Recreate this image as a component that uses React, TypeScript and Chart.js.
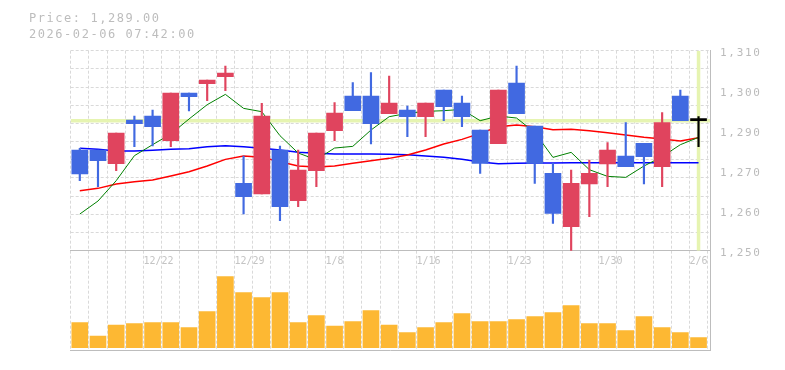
import React, { useEffect, useRef } from 'react';
import { Chart, registerables } from 'chart.js';

Chart.register(...registerables);

// ---- data ----
const dates = ['12/16','12/17','12/18','12/19','12/22','12/23','12/24','12/25','12/26','12/29','12/30','1/5','1/6','1/7','1/8','1/9','1/13','1/14','1/15','1/16','1/19','1/20','1/21','1/22','1/23','1/26','1/27','1/28','1/29','1/30','2/2','2/3','2/4','2/5','2/6'];
const xTickLabels = ['12/22','12/29','1/8','1/16','1/23','1/30','2/6'];

const open  = [1280.2,1280.2,1276.1,1289.2,1290.4,1283.0,1297.3,1300.1,1302.2,1270.2,1267.0,1280.2,1265.0,1274.0,1286.0,1296.4,1296.4,1291.1,1292.2,1290.2,1298.2,1294.3,1286.2,1282.1,1300.3,1287.4,1273.2,1257.2,1270.0,1276.0,1278.4,1282.2,1275.2,1296.4,1289.0];
const high  = [1280.7,1280.2,1285.3,1290.4,1292.2,1297.3,1297.3,1301.2,1305.4,1278.4,1294.2,1281.4,1280.2,1285.3,1294.4,1300.4,1303.4,1302.4,1293.4,1294.3,1298.2,1296.4,1286.2,1298.2,1305.4,1287.4,1276.2,1274.2,1277.2,1282.4,1288.4,1282.2,1291.4,1298.2,1290.2];
const low   = [1271.0,1269.2,1274.0,1281.2,1281.4,1281.2,1291.9,1295.0,1298.0,1261.0,1267.0,1259.0,1263.2,1269.2,1283.0,1292.0,1282.0,1291.1,1284.2,1284.2,1289.0,1287.2,1273.2,1282.1,1291.1,1270.2,1258.2,1250.0,1260.2,1269.2,1275.2,1270.0,1269.2,1289.0,1281.2];
const close = [1273.0,1277.0,1285.3,1288.1,1287.2,1297.3,1296.2,1301.2,1303.3,1266.2,1290.4,1263.2,1274.2,1285.3,1291.3,1292.0,1288.1,1294.3,1290.2,1294.3,1293.2,1290.2,1276.2,1298.2,1291.1,1276.2,1261.2,1270.2,1273.2,1280.2,1275.2,1278.2,1288.4,1289.0,1289.0];
const volume = [25000,11700,22700,24000,25000,25000,20000,36000,71000,55000,50000,55000,25000,32000,21700,26000,37000,22700,15000,20000,25000,34000,26000,26000,28000,31000,35000,42000,24000,24000,17000,31000,20000,15000,10000];

const ma5  = [1261.0,1264.9,1271.0,1278.5,1281.8,1285.0,1289.5,1293.8,1296.9,1292.7,1291.7,1284.5,1279.3,1277.3,1280.8,1281.3,1286.2,1290.2,1291.2,1291.8,1292.0,1292.4,1289.0,1290.4,1289.8,1285.5,1278.0,1279.5,1274.3,1272.3,1272.0,1275.4,1278.2,1281.8,1284.0];
const ma25 = [1268.0,1268.7,1270.0,1270.7,1271.2,1272.4,1273.7,1275.4,1277.4,1278.4,1278.0,1276.7,1275.4,1275.1,1275.4,1276.2,1277.0,1277.7,1278.7,1280.2,1282.0,1283.4,1285.2,1287.2,1287.7,1287.2,1286.3,1286.4,1286.0,1285.4,1284.7,1284.0,1283.5,1282.9,1283.9];
const ma75 = [1280.7,1280.4,1279.9,1279.9,1280.1,1280.4,1280.6,1281.2,1281.5,1281.2,1280.7,1280.2,1279.5,1279.2,1279.0,1279.0,1279.0,1278.9,1278.8,1278.4,1278.0,1277.4,1276.6,1276.1,1276.2,1276.3,1276.3,1276.4,1276.4,1276.4,1276.4,1276.4,1276.4,1276.4,1276.4];

const lastPrice = 1289;
const priceMin = 1250;
const priceMax = 1310;
const priceTickValues = [1250, 1262, 1274, 1286, 1298, 1310];
const priceTickLabels = ['1,250', '1,260', '1,270', '1,290', '1,300', '1,310'];
const priceGridDivisions = 11;

const priceText = 'Price: 1,289.00';
const timeText = '2026-02-06 07:42:00';

// ---- styles ----
const RED = '#e0445e';
const BLUE = '#4169e1';
const BLACK = '#000000';
const VOL = '#fdb833';
const CROSS = '#e6f4b1';
const GRID = '#d9d9d9';
const FRAME = '#bdbdbd';
const MONO = '"DejaVu Sans Mono", monospace';

export default function App() {
  const ref = useRef<HTMLCanvasElement>(null);

  useEffect(() => {
    const canvas = ref.current;
    if (!canvas) return;
    const n = dates.length;
    const xMin = -0.5;
    const xMax = 34.63;
    const colors = dates.map((_, i) => (close[i] > open[i] ? RED : close[i] < open[i] ? BLUE : BLACK));
    const gridVals = Array.from({ length: priceGridDivisions + 1 }, (_, k) => priceMin + (k * (priceMax - priceMin)) / priceGridDivisions);
    const isGrid = (v: number) => gridVals.some((g) => Math.abs(g - v) < 1e-6);
    const yTicks = [...gridVals, ...priceTickValues.filter((v) => !isGrid(v))].sort((a, b) => a - b);
    const xBounds = Array.from({ length: n + 1 }, (_, k) => k - 0.5);

    const chart = new Chart(canvas, {
      type: 'bar',
      data: {
        datasets: [
          {
            type: 'bar', label: 'body',
            data: dates.map((_, i) => ({ x: i, y: [open[i], close[i]] })) as any,
            backgroundColor: colors, barThickness: 16, grouped: false, minBarLength: 2,
            borderWidth: 0, order: 1, xAxisID: 'x', yAxisID: 'y',
          } as any,
          {
            type: 'bar', label: 'wick',
            data: dates.map((_, i) => ({ x: i, y: [low[i], high[i]] })) as any,
            backgroundColor: colors, barThickness: 1.5, grouped: false,
            borderWidth: 0, order: 2, xAxisID: 'x', yAxisID: 'y',
          } as any,
          {
            type: 'line', label: 'MA5', data: ma5.map((v, i) => ({ x: i, y: v })),
            borderColor: '#008000', borderWidth: 1, pointRadius: 0, tension: 0, order: 3, xAxisID: 'x', yAxisID: 'y',
          } as any,
          {
            type: 'line', label: 'MA25', data: ma25.map((v, i) => ({ x: i, y: v })),
            borderColor: '#ff0000', borderWidth: 1.5, pointRadius: 0, tension: 0, order: 4, xAxisID: 'x', yAxisID: 'y',
          } as any,
          {
            type: 'line', label: 'MA75', data: ma75.map((v, i) => ({ x: i, y: v })),
            borderColor: '#0000ff', borderWidth: 1.5, pointRadius: 0, tension: 0, order: 5, xAxisID: 'x', yAxisID: 'y',
          } as any,
          {
            type: 'line', label: 'crossH', data: [{ x: xMin, y: lastPrice }, { x: xMax, y: lastPrice }],
            borderColor: CROSS, borderWidth: 3.5, pointRadius: 0, order: 6, xAxisID: 'x', yAxisID: 'y',
          } as any,
          {
            type: 'line', label: 'crossV', data: [{ x: n - 1, y: priceMin }, { x: n - 1, y: priceMax }],
            borderColor: CROSS, borderWidth: 3.5, pointRadius: 0, order: 7, xAxisID: 'x', yAxisID: 'y',
          } as any,
          {
            type: 'bar', label: 'volume',
            data: volume.map((v, i) => ({ x: i, y: v })) as any,
            backgroundColor: VOL, barThickness: 16, grouped: false, borderWidth: 0,
            order: 8, xAxisID: 'x', yAxisID: 'v',
          } as any,
        ],
      },
      options: {
        responsive: false,
        animation: false,
        events: [],
        layout: { padding: { left: 70.7, top: 50.7, right: 0, bottom: 20 } },
        plugins: { legend: { display: false }, tooltip: { enabled: false }, title: { display: false } },
        scales: {
          x: {
            type: 'linear', axis: 'x', position: { y: priceMin } as any,
            min: xMin, max: xMax, offset: false,
            afterBuildTicks: (s: any) => { s.ticks = xBounds.map((v) => ({ value: v })); },
            ticks: {
              autoSkip: false, maxRotation: 0, minRotation: 0, align: 'start', padding: 5,
              color: '#c4c4c4', font: { family: MONO, size: 10 },
              callback: (v: any) => {
                const d = dates[Math.round(Number(v) + 0.5)];
                return d && xTickLabels.includes(d) ? d : '';
              },
            },
            grid: { display: true, color: GRID, lineWidth: 1, drawTicks: false, offset: false },
            border: { display: true, color: FRAME, width: 1, dash: [3, 2] },
          } as any,
          y: {
            type: 'linear', position: 'right', stack: 'main', stackWeight: 200,
            min: priceMin, max: priceMax,
            afterBuildTicks: (s: any) => {
              s.ticks = yTicks.map((v) => ({ value: v }));
              if (!s._lsPatched) {
                const orig = s.drawLabels.bind(s);
                s.drawLabels = (area: any) => {
                  const ctx: any = s.ctx;
                  const prev = ctx.letterSpacing;
                  ctx.letterSpacing = '1.7px';
                  orig(area);
                  ctx.letterSpacing = prev || '0px';
                };
                s._lsPatched = true;
              }
            },
            afterFit: (s: any) => { s.width = 75; },
            ticks: {
              autoSkip: false, padding: 10, labelOffset: 2.5,
              color: '#bbbbbb', font: { family: MONO, size: 11 },
              callback: (v: any) => {
                const k = priceTickValues.findIndex((t) => Math.abs(t - Number(v)) < 1e-6);
                return k >= 0 ? priceTickLabels[k] : '';
              },
            },
            grid: {
              drawTicks: false,
              color: (c: any) => (c.tick && isGrid(c.tick.value) ? GRID : 'rgba(0,0,0,0)'),
            },
            border: { display: true, color: FRAME, width: 1, dash: [3, 2] },
          } as any,
          v: {
            type: 'linear', position: 'right', stack: 'main', stackWeight: 99.3,
            min: -2300, max: 97000,
            afterFit: (s: any) => { s.width = 75; },
            ticks: { display: false },
            grid: { display: false, drawTicks: false },
            border: { display: true, color: FRAME, width: 1 },
          } as any,
          xb: {
            type: 'linear', axis: 'x', position: 'bottom',
            afterFit: (s: any) => { s.height = 0; },
            ticks: { display: false },
            grid: { display: false, drawTicks: false },
            border: { display: true, color: FRAME, width: 1 },
          } as any,
        },
      } as any,
    });
    return () => chart.destroy();
  }, []);

  return (
    <div style={{ position: 'absolute', left: 0, top: 0, width: 785, height: 370, background: '#ffffff' }}>
      <canvas ref={ref} width={785} height={370} style={{ position: 'absolute', left: 0, top: 0, width: 785, height: 370 }} />
      <div
        style={{
          position: 'absolute', left: 29, top: 10, fontFamily: MONO, fontSize: 12,
          letterSpacing: '1.55px', lineHeight: '16px', color: '#bdbdbd', whiteSpace: 'pre',
        }}
      >
        <div>{priceText}</div>
        <div>{timeText}</div>
      </div>
    </div>
  );
}
